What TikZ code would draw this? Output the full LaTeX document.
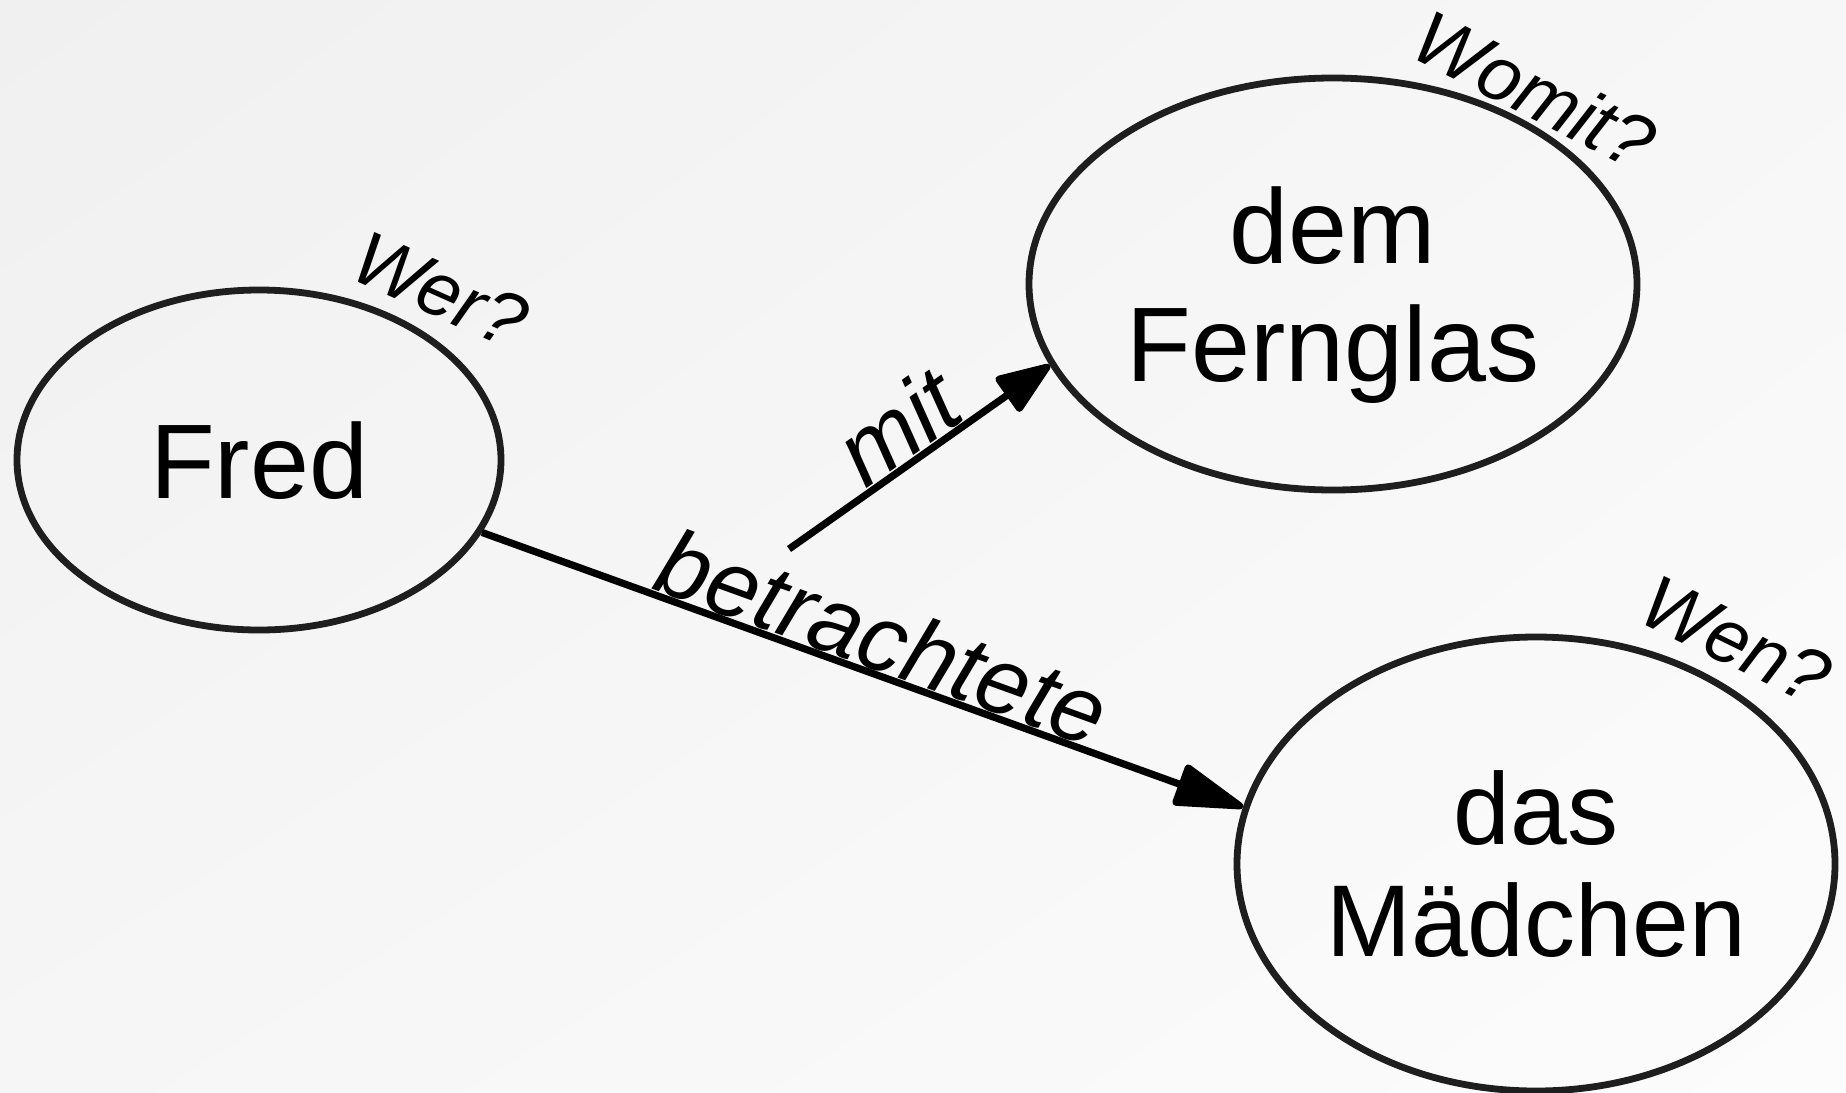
\documentclass[tikz,border=0pt]{standalone}
\usepackage{fontspec}
\setmainfont{Liberation Sans}
\usepackage{xcolor}
\usetikzlibrary{shapes.geometric,arrows.meta,shadings}

\definecolor{bgtl}{RGB}{240,240,240}
\definecolor{bgtr}{RGB}{247,247,247}
\definecolor{bgbl}{RGB}{246,246,246}
\definecolor{bgbr}{RGB}{252,252,252}
\definecolor{rim}{RGB}{30,30,30}

\begin{document}
\begin{tikzpicture}[x=0.5pt, y=-0.5pt,
  word/.style = {ellipse, draw=rim, line width=3.4pt, align=center, inner sep=0pt,
                 text depth=0pt, font=\fontsize{53}{59}\selectfont},
  ask/.style  = {font=\fontsize{38}{40}\selectfont\itshape, inner sep=0pt},
  verb/.style = {font=\fontsize{47}{50}\selectfont\itshape, sloped, above, inner sep=0pt}]
  \useasboundingbox (0,0) rectangle (1846,1092);
  \shade[upper left=bgtl, upper right=bgtr, lower left=bgbl, lower right=bgbr]
    (0,0) rectangle (1846,1092);

  % the three words
  \node[word, minimum width=242pt, minimum height=170pt] (fred) at (259,460) {Fred};
  \node[word, minimum width=304pt, minimum height=206pt] (fernglas) at (1333,284) {dem\\Fernglas};
  \node[word, minimum width=299pt, minimum height=227pt, font=\fontsize{51}{56}\selectfont] (maedchen) at (1536,864) {das\\Mädchen};

  % questions
  \node[ask, rotate=-24] (wer) at (440,290) {Wer?};
  \node[ask, rotate=-27] (womit) at (1535,90) {Womit?};
  \node[ask, rotate=-26] (wen) at (1736,640) {Wen?};

  % verbs
  \coordinate (mitstart) at (789,549);
  \draw[line width=3.6pt, -{Triangle[round, length=39pt, width=22pt]}] (fred.-18) -- (maedchen.169)
    node[verb, pos=.51] (betrachtete) {betrachtete};
  \draw[line width=3.6pt, -{Triangle[round, length=30pt, width=22pt]}] (mitstart) -- (fernglas.196)
    node[verb, midway] (mit) {mit};
\end{tikzpicture}
\end{document}
